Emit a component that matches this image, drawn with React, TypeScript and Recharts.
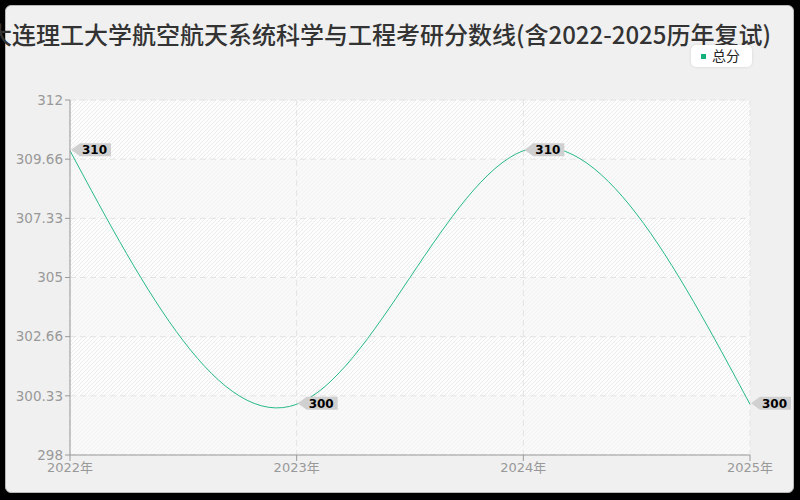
import React from 'react';
import { LineChart, Line, XAxis, YAxis, CartesianGrid, LabelList } from 'recharts';

const title = '大连理工大学航空航天系统科学与工程考研分数线(含2022-2025历年复试)';
const seriesName = '总分';
const years = ['2022年', '2023年', '2024年', '2025年'];
const scores = [310, 300, 310, 300];
const yTicks = [298, 300.333, 302.667, 305, 307.333, 309.667, 312];
const yTickLabels = ['298', '300.33', '302.66', '305', '307.33', '309.66', '312'];

const data = years.map((year, i) => ({ year, score: scores[i] }));

const FONT = '"DejaVu Sans", "Noto Sans CJK SC", sans-serif';
const TITLE_FONT = '"Noto Sans CJK SC", sans-serif';
const LINE_COLOR = '#27ba88';

const TagLabel = (props: any) => {
  const { x, y, value } = props;
  if (x == null || y == null) return null;
  const h = 6.5;
  const cy = y - 1;
  const d = `M${x + 1},${cy} L${x + 10},${cy - h} L${x + 41},${cy - h} L${x + 41},${cy + h} L${x + 10},${cy + h} Z`;
  return (
    <g>
      <path d={d} fill="#d0d0d0" />
      <text x={x + 12} y={cy + 4.4} fontSize={12} fontWeight="bold" fill="#000" fontFamily={FONT}>
        {value}
      </text>
    </g>
  );
};

export default function App() {
  return (
    <div style={{ position: 'absolute', left: 0, top: 0, width: 800, height: 500, background: '#000', overflow: 'hidden' }}>
      <svg width={0} height={0} style={{ position: 'absolute' }}>
        <defs>
          <pattern id="hatchA" patternUnits="userSpaceOnUse" width={4} height={4}>
            <rect width={4} height={4} fill="#fdfdfd" />
            <path d="M-1,1 l2,-2 M0,4 l4,-4 M3,5 l2,-2" stroke="#ececec" strokeWidth={1} />
          </pattern>
          <pattern id="hatchB" patternUnits="userSpaceOnUse" width={4} height={4}>
            <rect width={4} height={4} fill="#f9f9f9" />
            <path d="M-1,1 l2,-2 M0,4 l4,-4 M3,5 l2,-2" stroke="#f2f2f2" strokeWidth={1} />
          </pattern>
        </defs>
      </svg>
      <div
        style={{
          position: 'absolute',
          left: 5,
          top: 5,
          width: 787,
          height: 486,
          border: '1px solid #b8b8b8',
          borderRadius: 6,
          background: '#f0f0f0',
        }}
      />
      <div style={{ position: 'absolute', left: 0, top: 0 }}>
        <LineChart width={800} height={500} data={data} margin={{ top: 100, right: 50, bottom: 0, left: 10 }}>
          <CartesianGrid
            stroke="#e3e3e3"
            strokeDasharray="6 4"
            horizontalFill={['url(#hatchA)', 'url(#hatchB)']}
            fillOpacity={1}
          />
          <XAxis
            dataKey="year"
            height={45}
            interval={0}
            tick={{ fill: '#999', fontSize: 13, fontFamily: FONT }}
            tickLine={{ stroke: '#999' }}
            axisLine={{ stroke: '#999' }}
            tickSize={6}
          />
          <YAxis
            width={60}
            domain={[298, 312]}
            ticks={yTicks}
            interval={0}
            tickFormatter={(_v: any, i: number) => yTickLabels[i]}
            tick={{ fill: '#999', fontSize: 13.5, fontFamily: FONT }}
            tickLine={{ stroke: '#999' }}
            axisLine={{ stroke: '#999' }}
            tickSize={5}
          />
          <Line
            type="natural"
            dataKey="score"
            name={seriesName}
            stroke={LINE_COLOR}
            strokeWidth={1}
            dot={false}
            activeDot={false}
            isAnimationActive={false}
          >
            <LabelList dataKey="score" content={<TagLabel />} />
          </Line>
        </LineChart>
      </div>
      <svg width={800} height={60} style={{ position: 'absolute', left: 0, top: 0, pointerEvents: 'none' }}>
        <text x={771} y={44} textAnchor="end" fontSize={24} fontWeight={500} fill="#333" fontFamily={TITLE_FONT}>
          {title}
        </text>
      </svg>
      <div
        style={{
          position: 'absolute',
          left: 691,
          top: 45,
          width: 61,
          height: 22,
          background: '#fff',
          borderRadius: 5,
          boxShadow: '0 0 3px rgba(0,0,0,0.12)',
          fontFamily: FONT,
        }}
      >
        <div style={{ position: 'absolute', left: 10, top: 9, width: 5, height: 5, background: '#12b07c' }} />
        <div style={{ position: 'absolute', left: 21, top: 1, fontSize: 14, lineHeight: '20px', color: '#222' }}>{seriesName}</div>
      </div>
    </div>
  );
}
